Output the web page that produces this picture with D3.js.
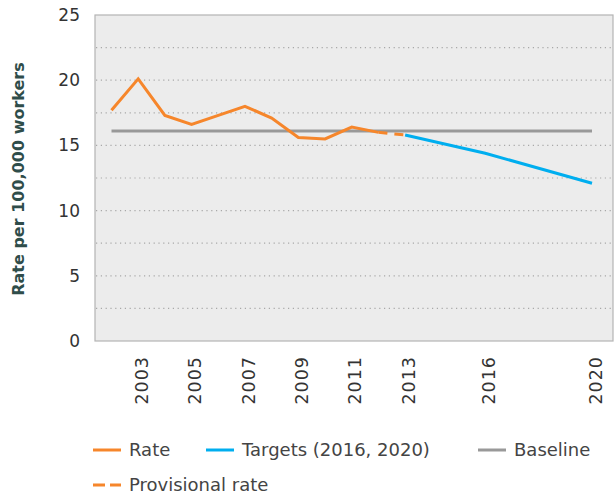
<!DOCTYPE html>
<html>
<head>
<meta charset="utf-8">
<script src="https://cdn.jsdelivr.net/npm/d3@7"></script>
<style>
  body { margin: 0; background: #fff; }
  text { font-family: "DejaVu Sans", sans-serif; }
</style>
</head>
<body>
<div id="chart"></div>
<script>
// Chart size and margins
var w = 614;
var h = 498;
var margin = { top: 15, right: 1, bottom: 157, left: 95 };
var innerW = w - margin.left - margin.right;
var innerH = h - margin.top - margin.bottom;

// Data
var rateYears = [2002, 2003, 2004, 2005, 2006, 2007, 2008, 2009, 2010, 2011, 2012];
var rateValues = [17.7, 20.1, 17.3, 16.6, 17.3, 18.0, 17.1, 15.6, 15.5, 16.4, 16.0];
var provisionalYears = [2012, 2013];
var provisionalValues = [16.0, 15.8];
var targetYears = [2013, 2016, 2020];
var targetValues = [15.8, 14.4, 12.1];
var baselineYears = [2002, 2020];
var baselineValues = [16.1, 16.1];
var xTickYears = [2003, 2005, 2007, 2009, 2011, 2013, 2016, 2020];
var yTicks = [0, 5, 10, 15, 20, 25];
var gridValues = [2.5, 5, 7.5, 10, 12.5, 15, 17.5, 20, 22.5];
var legendNames = ["Rate", "Targets (2016, 2020)", "Baseline", "Provisional rate"];

var orange = "#f6862b";
var blue = "#00aeef";
var grey = "#999999";

// Scales
var xScale = d3.scaleLinear()
    .domain([2002, 2020])
    .range([16.5, 497]);

var yScale = d3.scaleLinear()
    .domain([0, 25])
    .range([innerH, 0]);

var svg = d3.select("#chart")
    .append("svg")
    .attr("width", w)
    .attr("height", h);

var g = svg.append("g")
    .attr("transform", "translate(" + margin.left + "," + margin.top + ")");

// Plot background
g.append("rect")
    .attr("width", innerW)
    .attr("height", innerH)
    .attr("fill", "#ececec")
    .attr("stroke", "#b4b4b4")
    .attr("stroke-width", 1.2);

// Dotted gridlines
g.selectAll("line.grid")
    .data(gridValues)
    .enter()
    .append("line")
    .attr("class", "grid")
    .attr("x1", 1)
    .attr("x2", innerW)
    .attr("y1", function(d) { return yScale(d); })
    .attr("y2", function(d) { return yScale(d); })
    .attr("stroke", "#a8a8a8")
    .attr("stroke-width", 1.2)
    .attr("stroke-dasharray", "1.2,3.6");

// Y axis
var yAxis = g.append("g")
    .call(d3.axisLeft(yScale).tickValues(yTicks).tickSize(0).tickPadding(15));
yAxis.select(".domain").remove();
yAxis.selectAll("text")
    .attr("fill", "#333")
    .style("font-size", "17px");

// X axis with rotated year labels
var xAxis = g.append("g")
    .attr("transform", "translate(0," + innerH + ")")
    .call(d3.axisBottom(xScale).tickValues(xTickYears).tickFormat(d3.format("d")).tickSize(0));
xAxis.select(".domain").remove();
xAxis.selectAll("text")
    .attr("transform", "rotate(-90)")
    .attr("x", -15)
    .attr("y", 3)
    .attr("dy", "0.35em")
    .attr("fill", "#333")
    .style("text-anchor", "end")
    .style("letter-spacing", "1px")
    .style("font-size", "17.5px");

// Y axis title
svg.append("text")
    .attr("transform", "translate(24,179) rotate(-90)")
    .attr("text-anchor", "middle")
    .attr("fill", "#2f4d4a")
    .style("font-size", "16px")
    .style("font-weight", "bold")
    .text("Rate per 100,000 workers");

// Line generator
var line = d3.line()
    .x(function(d) { return xScale(d[0]); })
    .y(function(d) { return yScale(d[1]); });

function pairs(xs, ys) {
    return xs.map(function(x, i) { return [x, ys[i]]; });
}

// Baseline
g.append("path")
    .datum(pairs(baselineYears, baselineValues))
    .attr("d", line)
    .attr("fill", "none")
    .attr("stroke", grey)
    .attr("stroke-width", 3);

// Targets
g.append("path")
    .datum(pairs(targetYears, targetValues))
    .attr("d", line)
    .attr("fill", "none")
    .attr("stroke", blue)
    .attr("stroke-width", 3);

// Rate
g.append("path")
    .datum(pairs(rateYears, rateValues))
    .attr("d", line)
    .attr("fill", "none")
    .attr("stroke", orange)
    .attr("stroke-width", 3);

// Provisional rate (dashed)
g.append("path")
    .datum(pairs(provisionalYears, provisionalValues))
    .attr("d", line)
    .attr("fill", "none")
    .attr("stroke", orange)
    .attr("stroke-width", 3)
    .attr("stroke-dasharray", "9,7");

// Legend
var legendItems = [
    { name: legendNames[0], color: orange, dash: null, x: 93, y: 450 },
    { name: legendNames[1], color: blue, dash: null, x: 206, y: 450 },
    { name: legendNames[2], color: grey, dash: null, x: 478, y: 450 },
    { name: legendNames[3], color: orange, dash: "12,5", x: 93, y: 485 }
];

var legend = svg.selectAll("g.legend")
    .data(legendItems)
    .enter()
    .append("g")
    .attr("class", "legend")
    .attr("transform", function(d) { return "translate(" + d.x + "," + d.y + ")"; });

legend.append("line")
    .attr("x1", 0)
    .attr("x2", 28)
    .attr("stroke", function(d) { return d.color; })
    .attr("stroke-width", 3)
    .attr("stroke-dasharray", function(d) { return d.dash; });

legend.append("text")
    .attr("x", 36)
    .attr("dy", "0.35em")
    .attr("fill", "#444")
    .style("font-size", "18px")
    .text(function(d) { return d.name; });
</script>
</body>
</html>
